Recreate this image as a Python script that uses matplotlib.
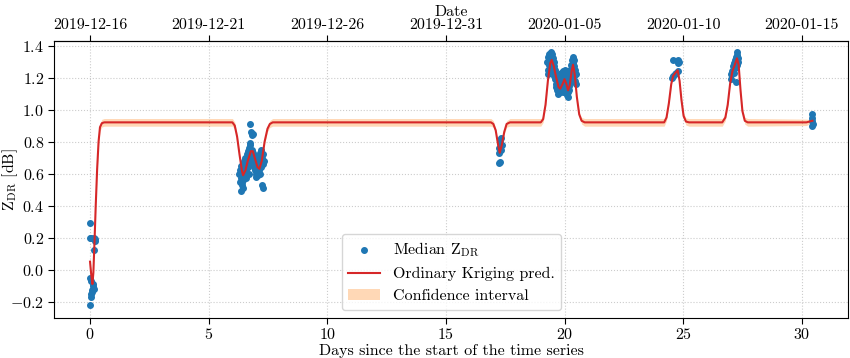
import numpy as np
import matplotlib
matplotlib.use('Agg')
import matplotlib.pyplot as plt

plt.rcParams['font.family'] = 'serif'
plt.rcParams['font.serif'] = ['cmr10']
plt.rcParams['mathtext.fontset'] = 'cm'
plt.rcParams['axes.formatter.use_mathtext'] = True
plt.rcParams['font.size'] = 11.5

# observed median ZDR, (day, value) per cluster
obs_start = [(0.00, 0.29), (0.00, 0.20), (0.03, 0.20), (0.18, 0.20), (0.22, 0.19), (0.20, 0.18),
             (0.16, 0.12), (0.00, -0.05), (0.02, -0.07), (0.13, -0.10), (0.15, -0.12), (0.10, -0.13),
             (0.03, -0.15), (0.05, -0.17), (0.01, -0.22), (0.08, -0.14), (0.12, -0.09)]
obs_dec22 = [(6.30, 0.60), (6.32, 0.55), (6.34, 0.62), (6.35, 0.57), (6.37, 0.65), (6.38, 0.49),
             (6.39, 0.53), (6.40, 0.58), (6.41, 0.62), (6.42, 0.55), (6.43, 0.51), (6.44, 0.60),
             (6.45, 0.66), (6.46, 0.56), (6.48, 0.63), (6.49, 0.59), (6.50, 0.68), (6.52, 0.61),
             (6.53, 0.65), (6.55, 0.70), (6.56, 0.57), (6.58, 0.66), (6.59, 0.62), (6.61, 0.72),
             (6.62, 0.68), (6.64, 0.64), (6.65, 0.74), (6.67, 0.70), (6.68, 0.60), (6.70, 0.73),
             (6.71, 0.76), (6.72, 0.67), (6.74, 0.91), (6.74, 0.79), (6.75, 0.71), (6.76, 0.78),
             (6.77, 0.86), (6.78, 0.74), (6.80, 0.69), (6.81, 0.75), (6.83, 0.84), (6.84, 0.72),
             (6.86, 0.85), (6.87, 0.66), (6.88, 0.73), (6.90, 0.70), (6.91, 0.64), (6.93, 0.68),
             (6.95, 0.62), (6.96, 0.71), (6.98, 0.60), (7.00, 0.66), (7.01, 0.58), (7.03, 0.63),
             (7.05, 0.61), (7.06, 0.67), (7.08, 0.59), (7.10, 0.65), (7.11, 0.62), (7.13, 0.70),
             (7.15, 0.60), (7.16, 0.68), (7.18, 0.73), (7.20, 0.64), (7.22, 0.75), (7.23, 0.53),
             (7.25, 0.70), (7.27, 0.66), (7.29, 0.51), (7.31, 0.72), (7.33, 0.68)]
obs_jan02 = [(17.22, 0.73), (17.25, 0.76), (17.28, 0.79), (17.30, 0.81), (17.33, 0.82),
             (17.27, 0.67), (17.24, 0.665), (17.31, 0.75), (17.35, 0.78)]
obs_jan04 = [(19.28, 1.30), (19.29, 1.25), (19.30, 1.33), (19.31, 1.22), (19.33, 1.28), (19.35, 1.35),
             (19.36, 1.31), (19.37, 1.26), (19.39, 1.34), (19.40, 1.29), (19.41, 1.36), (19.43, 1.32),
             (19.44, 1.27), (19.45, 1.34), (19.47, 1.30), (19.48, 1.35), (19.50, 1.28), (19.51, 1.32),
             (19.53, 1.24), (19.54, 1.30), (19.56, 1.27), (19.57, 1.21), (19.59, 1.25), (19.60, 1.19),
             (19.62, 1.23), (19.63, 1.16), (19.65, 1.21), (19.66, 1.14), (19.68, 1.18), (19.70, 1.12),
             (19.71, 1.20), (19.73, 1.15), (19.74, 1.10), (19.76, 1.17), (19.78, 1.13), (19.79, 1.22),
             (19.81, 1.11), (19.82, 1.16), (19.84, 1.19), (19.86, 1.13), (19.87, 1.23), (19.89, 1.15),
             (19.90, 1.20), (19.92, 1.11), (19.94, 1.24), (19.95, 1.17), (19.97, 1.21), (19.98, 1.14),
             (20.00, 1.25), (20.02, 1.18), (20.03, 1.12), (20.05, 1.22), (20.06, 1.16), (20.08, 1.20),
             (20.10, 1.09), (20.11, 1.14), (20.13, 1.18), (20.14, 1.11), (20.16, 1.08), (20.18, 1.15),
             (20.19, 1.21), (20.21, 1.12), (20.23, 1.19), (20.24, 1.25), (20.26, 1.17), (20.28, 1.28),
             (20.29, 1.22), (20.31, 1.31), (20.32, 1.26), (20.34, 1.33), (20.35, 1.29), (20.37, 1.24),
             (20.38, 1.31), (20.40, 1.27), (20.41, 1.21), (20.43, 1.25), (20.45, 1.18), (20.47, 1.22),
             (20.50, 1.16)]
obs_jan09 = [(24.56, 1.31), (24.77, 1.31), (24.84, 1.30), (24.80, 1.29), (24.53, 1.20),
             (24.58, 1.21), (24.65, 1.22), (24.72, 1.23), (24.78, 1.24)]
obs_jan12 = [(27.00, 1.19), (27.02, 1.22), (27.05, 1.24), (27.10, 1.27), (27.13, 1.23), (27.15, 1.29),
             (27.18, 1.31), (27.20, 1.26), (27.22, 1.17), (27.24, 1.33), (27.27, 1.36), (27.29, 1.34),
             (27.31, 1.30), (27.33, 1.32), (27.26, 1.28)]
obs_end = [(30.45, 0.97), (30.45, 0.95), (30.44, 0.93), (30.46, 0.91), (30.45, 0.90)]

# ordinary kriging prediction (day, value, half width of confidence interval)
pred = [(0.00, 0.05, 0.004), (0.05, -0.03, 0.004), (0.10, -0.09, 0.004), (0.14, -0.02, 0.004),
        (0.19, 0.18, 0.005), (0.24, 0.40, 0.010), (0.30, 0.63, 0.016), (0.36, 0.80, 0.020),
        (0.42, 0.89, 0.023), (0.50, 0.915, 0.024), (0.60, 0.92, 0.024),
        (6.00, 0.92, 0.024), (6.10, 0.90, 0.022), (6.20, 0.83, 0.015), (6.30, 0.72, 0.008),
        (6.40, 0.62, 0.005), (6.45, 0.59, 0.004), (6.55, 0.62, 0.004), (6.65, 0.68, 0.004),
        (6.78, 0.74, 0.004), (6.86, 0.74, 0.004), (6.96, 0.69, 0.004), (7.06, 0.64, 0.004),
        (7.14, 0.63, 0.004), (7.24, 0.68, 0.005), (7.36, 0.80, 0.010), (7.48, 0.88, 0.018),
        (7.58, 0.91, 0.022), (7.70, 0.92, 0.024),
        (16.90, 0.92, 0.024), (17.00, 0.91, 0.020), (17.10, 0.87, 0.012), (17.20, 0.78, 0.006),
        (17.27, 0.73, 0.004), (17.36, 0.78, 0.006), (17.46, 0.86, 0.012), (17.56, 0.91, 0.020),
        (17.70, 0.92, 0.024),
        (19.00, 0.92, 0.024), (19.10, 0.94, 0.020), (19.20, 1.03, 0.012), (19.30, 1.18, 0.006),
        (19.40, 1.29, 0.004), (19.46, 1.31, 0.004), (19.55, 1.27, 0.004), (19.65, 1.20, 0.004),
        (19.75, 1.14, 0.004), (19.82, 1.13, 0.004), (19.92, 1.16, 0.004), (20.00, 1.19, 0.004),
        (20.08, 1.16, 0.004), (20.15, 1.12, 0.004), (20.22, 1.15, 0.004), (20.30, 1.24, 0.004),
        (20.36, 1.28, 0.004), (20.43, 1.22, 0.004), (20.52, 1.08, 0.006), (20.62, 0.97, 0.012),
        (20.72, 0.93, 0.020), (20.85, 0.92, 0.024),
        (24.20, 0.92, 0.024), (24.30, 0.95, 0.020), (24.40, 1.04, 0.012), (24.50, 1.16, 0.006),
        (24.58, 1.21, 0.004), (24.68, 1.23, 0.004), (24.77, 1.245, 0.004), (24.85, 1.18, 0.006),
        (24.93, 1.06, 0.012), (25.02, 0.96, 0.018), (25.12, 0.925, 0.022), (25.25, 0.92, 0.024),
        (26.65, 0.92, 0.024), (26.78, 0.95, 0.020), (26.88, 1.03, 0.012), (26.98, 1.16, 0.006),
        (27.08, 1.24, 0.004), (27.18, 1.28, 0.004), (27.27, 1.32, 0.004), (27.34, 1.28, 0.005),
        (27.42, 1.12, 0.010), (27.50, 0.99, 0.016), (27.60, 0.93, 0.021), (27.72, 0.92, 0.024),
        (30.20, 0.92, 0.020), (30.45, 0.93, 0.006)]

day_ticks = [0, 5, 10, 15, 20, 25, 30]
date_labels = ['2019-12-16', '2019-12-21', '2019-12-26', '2019-12-31',
               '2020-01-05', '2020-01-10', '2020-01-15']

obs = np.array(obs_start + obs_dec22 + obs_jan02 + obs_jan04 + obs_jan09 + obs_jan12 + obs_end)
pred = np.array(pred)

fig = plt.figure(figsize=(8.5, 3.58), dpi=100)
ax = fig.add_axes([0.0635, 0.1126, 0.9347, 0.7737])

ax.fill_between(pred[:, 0], pred[:, 1] - pred[:, 2], pred[:, 1] + pred[:, 2],
                color='C1', alpha=0.3, linewidth=0, label='Confidence interval')
ax.scatter(obs[:, 0], obs[:, 1], s=16, color='C0', zorder=3, label=r'Median $\mathrm{Z_{DR}}$')
ax.plot(pred[:, 0], pred[:, 1], color='C3', lw=1.5, zorder=4, label='Ordinary Kriging pred.')

ax.set_xlim(-1.52, 31.97)
ax.set_ylim(-0.30, 1.43)
ax.set_xticks(day_ticks)
ax.set_yticks(np.arange(-0.2, 1.41, 0.2))
ax.tick_params(length=4, pad=3)
ax.grid(True, linestyle=':', color='#cccccc', linewidth=0.8)
ax.set_axisbelow(True)
ax.set_xlabel('Days since the start of the time series', labelpad=1)
ax.set_ylabel(r'$\mathrm{Z_{DR}}$ [dB]')
ax.yaxis.set_label_coords(-0.043, 0.5)

top = ax.secondary_xaxis('top')
top.set_xticks(day_ticks)
top.set_xticklabels(date_labels)
top.tick_params(length=4, pad=2)
top.set_xlabel('Date', labelpad=2)

h, l = ax.get_legend_handles_labels()
order = [l.index(r'Median $\mathrm{Z_{DR}}$'), l.index('Ordinary Kriging pred.'), l.index('Confidence interval')]
ax.legend([h[i] for i in order], [l[i] for i in order], loc='lower center')

fig.savefig('out.png', dpi=100)
